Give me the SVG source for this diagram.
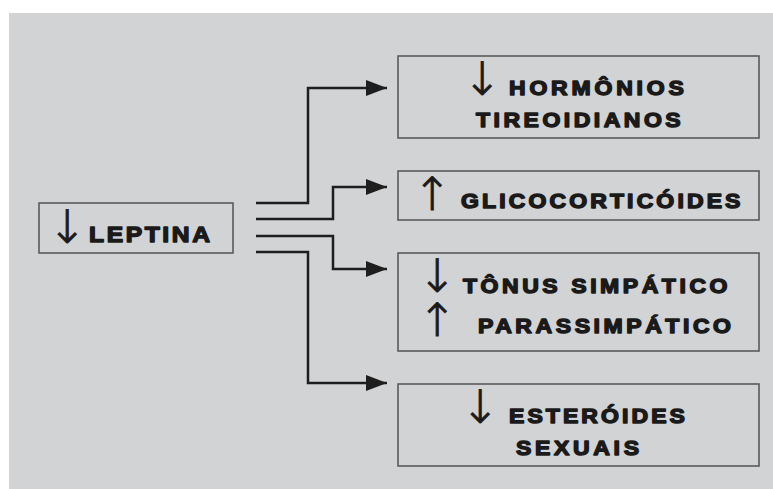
<svg xmlns="http://www.w3.org/2000/svg" width="773" height="489" viewBox="0 0 773 489">
<defs>
<marker id="ah" markerWidth="22" markerHeight="18" refX="21" refY="8" orient="auto" markerUnits="userSpaceOnUse">
<path d="M0,0 L21,8 L0,16 Z" fill="#1e1e1e"/>
</marker>
<style>
.box{fill:none;stroke:#5a5a5a;stroke-width:1.6}
.t{font-family:"Liberation Sans",Arial,sans-serif;font-weight:bold;font-size:20px;fill:#1a1a1a;stroke:#1a1a1a;stroke-width:1.4;stroke-linejoin:round}
.ar{font-family:"DejaVu Sans",sans-serif;font-weight:200;font-size:46px;fill:#1a1a1a;stroke:#1a1a1a;stroke-width:0.9}
.c{fill:none;stroke:#1e1e1e;stroke-width:2.5;marker-end:url(#ah)}
</style>
</defs>
<rect x="0" y="0" width="773" height="489" fill="#ffffff"/>
<rect x="9" y="13" width="764" height="476" fill="#d2d3d5"/>
<g id="leptina">
<rect class="box" x="39" y="203" width="194" height="50"/>
<text class="ar" x="48" y="243">↓</text>
<text class="t" transform="matrix(1.12,0,0,1,89,242)" style="font-size:22px" textLength="108" lengthAdjust="spacing">LEPTINA</text>
</g>
<g id="hormonios">
<rect class="box" x="398" y="56" width="361" height="82"/>
<text class="ar" x="463" y="95">↓</text>
<text class="t" transform="matrix(1.15,0,0,1,509,95)" textLength="152" lengthAdjust="spacing">HORMÔNIOS</text>
<text class="t" transform="matrix(1.15,0,0,1,476,127)" textLength="178" lengthAdjust="spacing">TIREOIDIANOS</text>
</g>
<g id="glicocorticoides">
<rect class="box" x="398" y="171" width="361" height="49"/>
<text class="ar" x="413" y="210">↑</text>
<text class="t" transform="matrix(1.15,0,0,1,461,208)" textLength="243" lengthAdjust="spacing">GLICOCORTICÓIDES</text>
</g>
<g id="tonus">
<rect class="box" x="398" y="253" width="361" height="98"/>
<text class="ar" x="418" y="292">↓</text>
<text class="t" transform="matrix(1.15,0,0,1,463,293)" textLength="230" lengthAdjust="spacing">TÔNUS SIMPÁTICO</text>
<text class="ar" x="418" y="336">↑</text>
<text class="t" transform="matrix(1.15,0,0,1,478,333)" textLength="220" lengthAdjust="spacing">PARASSIMPÁTICO</text>
</g>
<g id="esteroides">
<rect class="box" x="398" y="384" width="361" height="82"/>
<text class="ar" x="461" y="423">↓</text>
<text class="t" transform="matrix(1.15,0,0,1,509,423)" textLength="153" lengthAdjust="spacing">ESTERÓIDES</text>
<text class="t" transform="matrix(1.15,0,0,1,516,455)" textLength="107" lengthAdjust="spacing">SEXUAIS</text>
</g>
<g id="connectors">
<path class="c" d="M256,203 H308 V88 H387"/>
<path class="c" d="M256,219 H333 V187 H387"/>
<path class="c" d="M256,236 H333 V269 H387"/>
<path class="c" d="M256,252 H308 V383 H387"/>
</g>
</svg>
